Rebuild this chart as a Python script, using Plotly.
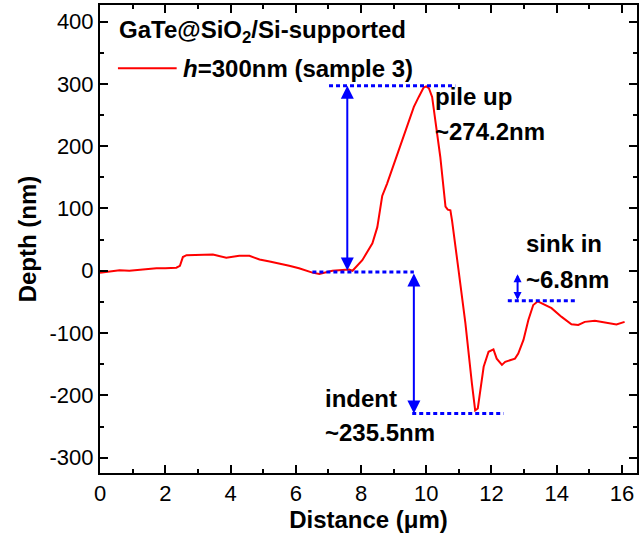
import plotly.graph_objects as go

# Depth profile across the indent (distance in µm, depth in nm)
distance = [0.0, 0.3, 0.6, 0.9, 1.22, 1.5, 1.73, 2.0, 2.34, 2.45, 2.54, 2.65, 3.0, 3.46,
            3.87, 4.27, 4.58, 4.89, 5.2, 5.5, 5.8, 6.1, 6.51, 6.72, 7.12, 7.63, 7.74,
            8.04, 8.35, 8.5, 8.65, 8.8, 9.16, 9.37, 9.62, 9.77, 9.92, 10.0, 10.08, 10.18,
            10.28, 10.43, 10.59, 10.66, 10.74, 10.79, 10.99, 11.2, 11.4, 11.5, 11.58,
            11.65, 11.76, 11.91, 12.06, 12.16, 12.32, 12.42, 12.57, 12.72, 12.82, 12.98,
            13.13, 13.28, 13.42, 13.64, 13.84, 14.15, 14.45, 14.66, 14.86, 15.17, 15.57,
            15.83, 16.08]
depth = [-3, -1, 1, 0, 2, 3, 4, 4, 5, 8, 22, 25, 25, 26,
         21, 24, 24, 18, 15, 12, 8, 4, -3, -5, 0, 2, 0,
         17, 44, 70, 120, 140, 194, 226, 263, 279, 294, 296, 293, 279,
         242, 183, 103, 98, 97, 81, 1, -84, -181, -224, -221,
         -191, -154, -130, -126, -141, -151, -146, -143, -141, -133, -111,
         -79, -55, -49, -55, -60, -74, -86, -87, -82, -80, -83,
         -86, -82]

# Reference levels for the pile-up, indent and sink-in measurements
pile_top_x, pile_top_y = [7.02, 10.89], 297
base_x, base_y = [6.51, 9.62], -2
indent_x, indent_y = [9.57, 12.37], -229
sink_x, sink_y = [12.5, 14.63], -48

# Measurement arrows: x position, start depth, end depth, head size
pile_arrow = (7.58, -2, 297, 1.3)
indent_arrow = (9.62, -2, -229, 1.3)
sink_arrow = (12.8, -3, -47, 0.8)

x_ticks = [0, 2, 4, 6, 8, 10, 12, 14, 16]
y_ticks = [-300, -200, -100, 0, 100, 200, 300, 400]
y_ticktext = [str(v) for v in y_ticks]  # plain hyphen minus

FONT = "Liberation Sans, Arial, sans-serif"
BLUE = "#0000ff"
RED = "#ff0000"

fig = go.Figure()

fig.add_trace(go.Scatter(x=distance, y=depth, mode="lines",
                         line=dict(color=RED, width=2), showlegend=False))

for xs, yv in [(pile_top_x, pile_top_y), (base_x, base_y),
               (indent_x, indent_y), (sink_x, sink_y)]:
    fig.add_trace(go.Scatter(x=xs, y=[yv, yv], mode="lines",
                             line=dict(color=BLUE, width=3, dash="4px,3px"),
                             showlegend=False))

annotations = []
for ax_x, y0, y1, head in [pile_arrow, indent_arrow, sink_arrow]:
    annotations.append(dict(x=ax_x, y=y1, ax=ax_x, ay=y0, xref="x", yref="y",
                            axref="x", ayref="y", text="", showarrow=True,
                            arrowhead=2, arrowside="end+start", arrowsize=head,
                            arrowwidth=2, arrowcolor=BLUE, standoff=0,
                            startstandoff=0))

label_font = dict(family=FONT, size=24, color="black")


def label(text, x, y):
    annotations.append(dict(x=x, y=y, xref="x", yref="y", text=text,
                            showarrow=False, xanchor="left", yanchor="middle",
                            font=label_font))


label("<b>pile up</b>", 10.22, 279)
label("<b>~274.2nm</b>", 10.22, 224)
label("<b>sink in</b>", 13.0, 43)
label("<b>~6.8nm</b>", 13.0, -14)
label("<b>indent</b>", 6.82, -205)
label("<b>~235.5nm</b>", 6.82, -259)
label("<b>GaTe@SiO<sub>2</sub>/Si-supported</b>", 0.52, 384)
label("<b><i>h</i>=300nm (sample 3)</b>", 2.48, 324)

# legend-style sample line
fig.add_shape(type="line", x0=0.55, x1=2.35, y0=325, y1=325, xref="x", yref="y",
              line=dict(color=RED, width=2))

axis_common = dict(showline=True, linewidth=2, linecolor="black", mirror="ticks",
                   ticks="inside", ticklen=8, tickwidth=2, tickcolor="black",
                   showgrid=False, zeroline=False,
                   tickfont=dict(family=FONT, size=22, color="black"),
                   minor=dict(ticks="inside", ticklen=4, tickwidth=2,
                              tickcolor="black", showgrid=False))

fig.update_xaxes(range=[0, 16.46], tickvals=x_ticks, dtick=2,
                 minor_dtick=1,
                 title=dict(text="<b>Distance (μm)</b>",
                            font=dict(family=FONT, size=24, color="black"),
                            standoff=2),
                 **axis_common)
fig.update_yaxes(range=[-324.5, 426.5], tickvals=y_ticks, ticktext=y_ticktext,
                 minor_dtick=50,
                 title=dict(text="<b>Depth (nm)</b>",
                            font=dict(family=FONT, size=24, color="black"),
                            standoff=6),
                 **axis_common)

fig.update_layout(width=641, height=543, plot_bgcolor="white", paper_bgcolor="white",
                  margin=dict(l=100, r=2, t=5, b=70), annotations=annotations,
                  showlegend=False)

fig.write_html("out.html")
